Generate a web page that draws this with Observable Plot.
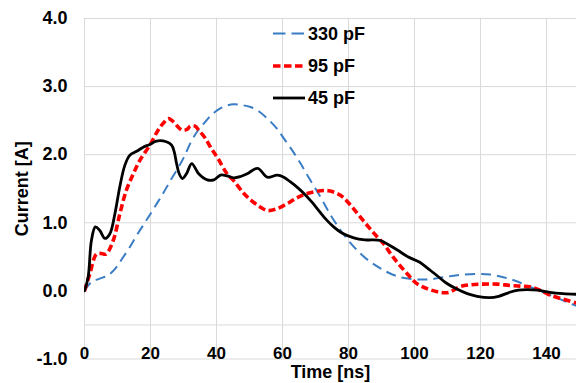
<!DOCTYPE html>
<html><head><meta charset="utf-8">
<script src="https://cdn.jsdelivr.net/npm/d3@7"></script>
<script src="https://cdn.jsdelivr.net/npm/@observablehq/plot@0.6"></script>
<style>
body{margin:0;background:#fff;}
#chart{width:576px;height:383px;}
svg{font-family:"Liberation Sans",Arial,sans-serif;}
</style></head><body><div id="chart"></div>
<script>
const seriesNames = ["330 pF", "95 pF", "45 pF"];

const t330 = [0, 2.1, 4.6, 7.2, 9.7, 11.5, 13.7, 16, 18.8, 21, 23.8, 25.8, 27.9, 30, 32.1, 34, 36.2, 38, 40.2, 42.5, 45.2, 47.5, 50.3, 53, 55.4, 58, 60.4, 63, 65.5, 68, 71.5, 74.5, 77.6, 80.5, 83.6, 86.5, 89.7, 92, 95.8, 100.6, 104.5, 108.7, 113, 118.8, 123, 126.9, 130.5, 134, 137.5, 141, 145, 148, 149.2];
const v330 = [0, 0.13, 0.18, 0.23, 0.35, 0.48, 0.64, 0.83, 1.04, 1.21, 1.43, 1.60, 1.77, 1.95, 2.17, 2.33, 2.46, 2.56, 2.65, 2.71, 2.74, 2.73, 2.70, 2.63, 2.53, 2.40, 2.24, 2.06, 1.87, 1.66, 1.38, 1.12, 0.89, 0.71, 0.55, 0.43, 0.33, 0.27, 0.20, 0.17, 0.17, 0.20, 0.23, 0.25, 0.24, 0.20, 0.15, 0.08, 0.01, -0.06, -0.14, -0.20, -0.22];

const t95 = [0, 1.6, 3.6, 5, 6.5, 8.7, 10.7, 12.7, 14.8, 16.8, 19.8, 22.3, 24, 25.5, 27, 28.5, 29.6, 31, 32.1, 33.5, 34.6, 36.5, 38.2, 40.5, 43.2, 45.2, 48.3, 50.5, 53, 55.4, 58, 61.4, 64.5, 67.5, 71.5, 74, 76.6, 78.5, 80.6, 83, 85.7, 88.2, 90.7, 93, 95.3, 98, 100.6, 104, 107.7, 110.5, 113.7, 117, 120.8, 125, 128.9, 132, 134.9, 138, 141, 145, 149.2];
const v95 = [0, 0.25, 0.54, 0.55, 0.54, 0.74, 1.13, 1.48, 1.72, 1.92, 2.14, 2.36, 2.47, 2.53, 2.48, 2.40, 2.36, 2.37, 2.42, 2.42, 2.36, 2.25, 2.11, 1.94, 1.72, 1.62, 1.43, 1.33, 1.24, 1.18, 1.20, 1.28, 1.37, 1.43, 1.47, 1.47, 1.43, 1.37, 1.26, 1.12, 0.96, 0.82, 0.69, 0.53, 0.39, 0.24, 0.11, 0.03, -0.02, -0.02, 0.06, 0.09, 0.10, 0.10, 0.08, 0.07, 0.06, 0.01, -0.06, -0.12, -0.18];

const t45 = [0, 1.1, 2.1, 3.3, 4.6, 6.2, 7.7, 9.2, 10.7, 12.2, 13.7, 15.8, 17.8, 19.8, 21.8, 24.8, 26.4, 27.2, 27.9, 28.7, 29.7, 30.9, 32.5, 34.6, 37.2, 39.2, 41.2, 43.2, 45.2, 47.3, 49.3, 52.5, 55.4, 58.4, 60.4, 62.4, 64.5, 66.5, 68.8, 71, 73.2, 75.5, 78, 81.6, 85, 89.7, 92, 94.8, 98, 101.6, 104.3, 106.7, 109.5, 112.7, 116, 119, 122.8, 125.5, 128.9, 131.5, 134, 137.5, 141, 145, 149.2];
const v45 = [0, 0.2, 0.74, 0.94, 0.89, 0.77, 0.84, 1.13, 1.53, 1.84, 1.99, 2.05, 2.11, 2.15, 2.20, 2.19, 2.14, 2.04, 1.87, 1.72, 1.65, 1.72, 1.87, 1.72, 1.63, 1.63, 1.70, 1.69, 1.66, 1.68, 1.72, 1.80, 1.67, 1.70, 1.67, 1.60, 1.52, 1.43, 1.31, 1.18, 1.05, 0.94, 0.85, 0.78, 0.75, 0.74, 0.68, 0.60, 0.50, 0.42, 0.32, 0.23, 0.12, 0.03, -0.04, -0.08, -0.10, -0.08, -0.02, 0.01, 0.02, 0.01, -0.02, -0.04, -0.05];

const xTicks = [0, 20, 40, 60, 80, 100, 120, 140];
const yTicks = [-1, 0, 1, 2, 3, 4];
const yGrid = [-1, -0.5, 1, 2, 3, 4];

const colors = ["#3b7dc4", "#ff0000", "#000000"];
const widths = [2, 3.6, 2.8];
const dashes = ["10,6", "7,3.5", null];
const legendDashes = ["12.5,6", "7.5,3.5", null];

const rows = (name, t, v) => t.map((x, i) => ({series: name, t: x, v: v[i]}));
const data = [rows(seriesNames[0], t330, v330), rows(seriesNames[1], t95, v95), rows(seriesNames[2], t45, v45)];

const lineMarks = data.map((d, i) => Plot.line(d, {
  x: "t", y: "v", stroke: colors[i], strokeWidth: widths[i],
  strokeDasharray: dashes[i] ?? undefined, strokeLinecap: dashes[i] ? "butt" : "round",
  curve: "catmull-rom", clip: true
}));

const chart = Plot.plot({
  width: 576, height: 383,
  marginLeft: 84, marginRight: 0, marginTop: 18, marginBottom: 24.5,
  x: {domain: [0, 149.1]},
  y: {domain: [-1, 4]},
  style: {fontFamily: "'Liberation Sans', Arial, sans-serif", color: "#000", background: "#fff"},
  marks: [
    Plot.ruleY(yGrid, {stroke: "#d9d9d9", strokeWidth: 1}),
    Plot.ruleX(xTicks, {stroke: "#d9d9d9", strokeWidth: 1}),
    ...lineMarks,
    Plot.axisY(yTicks, {tickSize: 0, tickPadding: 17, tickFormat: d => d.toFixed(1), fontSize: 18, fontWeight: "bold", label: null}),
    Plot.axisX(xTicks, {tickSize: 0, dy: -21, fontSize: 17, fontWeight: "bold", label: null}),
    Plot.text(["Time [ns]"], {frameAnchor: "bottom", dy: 13, lineAnchor: "middle", fontSize: 18, fontWeight: "bold", text: d => d}),
    Plot.text(["Current [A]"], {frameAnchor: "left", dx: -62, rotate: -90, lineAnchor: "middle", textAnchor: "middle", fontSize: 18, fontWeight: "bold", text: d => d})
  ]
});

// legend inside the plot area
const svg = d3.select(chart);
const lg = svg.append("g").attr("font-family", "'Liberation Sans', Arial, sans-serif").attr("text-anchor", "start");
const legendY = [33.5, 66, 98];
seriesNames.forEach((name, i) => {
  const g = lg.append("g").attr("transform", `translate(0,${legendY[i]})`);
  const ln = g.append("line").attr("x1", 273).attr("x2", 305).attr("y1", 0).attr("y2", 0)
    .attr("stroke", colors[i]).attr("stroke-width", widths[i]);
  if (legendDashes[i]) ln.attr("stroke-dasharray", legendDashes[i]);
  g.append("text").attr("x", 308).attr("y", 0).attr("dy", "0.36em").attr("text-anchor", "start")
    .attr("font-size", 18).attr("font-weight", "bold").attr("fill", "#000").text(name);
});

document.getElementById("chart").appendChild(chart);
</script>
</body></html>
